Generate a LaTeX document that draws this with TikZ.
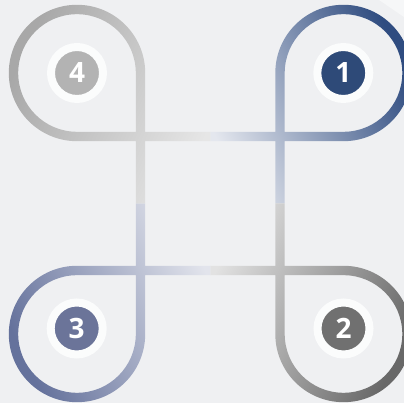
\documentclass[tikz,border=0pt]{standalone}
\usepackage{fontspec}
\setmainfont{Open Sans}
\usepackage{tikz}
\usepackage{xcolor}

\definecolor{bgcol}{HTML}{EFF0F2}
\definecolor{cornercol}{HTML}{F6F7F8}
\definecolor{ringcol}{HTML}{FBFCFC}
\definecolor{onecol}{HTML}{2E4A78}
\definecolor{twocol}{HTML}{707070}
\definecolor{threecol}{HTML}{6B7499}
\definecolor{fourcol}{HTML}{B3B3B3}
\definecolor{onedark}{HTML}{2F4C80}
\definecolor{onelight}{HTML}{E4E7EE}
\definecolor{twodark}{HTML}{686868}
\definecolor{twolight}{HTML}{E2E2E2}
\definecolor{threedark}{HTML}{65729C}
\definecolor{threelight}{HTML}{E2E4EC}
\definecolor{fourdark}{HTML}{A8A8A8}
\definecolor{fourlight}{HTML}{E6E6E6}

\begin{document}
\begin{tikzpicture}[x=1pt,y=1pt]
\tikzstyle{badge} =[circle, draw=ringcol, line width=8pt, minimum size=52pt, inner sep=0pt, text=white, font=\fontsize{28}{28}\selectfont\bfseries]

\useasboundingbox (0,0) rectangle (404,403);
\clip (0,0) rectangle (404,403);
\fill[bgcol] (0,0) rectangle (404,403);
\fill[cornercol] (379,403) -- (404,403) -- (404,386) -- cycle;

% one loop per corner, mirrored around the middle
\foreach \sx/\sy/\ang/\dark/\light in {1/1/-65/onedark/onelight, 1/-1/-115/twodark/twolight, -1/-1/115/threedark/threelight, -1/1/65/fourdark/fourlight}{
\begin{scope}[shift={(210.25,199.5)},xscale=\sx,yscale=\sy]
\shade[top color=\dark, bottom color=\light, shading angle=\ang]
  (133.25,62.3) arc[start angle=-90, end angle=180, radius=68.2] -- (74.45,130.5)
  arc[start angle=180, end angle=-90, radius=58.8] -- cycle
  (0,62.3) -- (133.25,62.3) -- (133.25,71.7) -- (0,71.7) -- cycle
  (65.05,0) -- (74.45,0) -- (74.45,130.5) -- (65.05,130.5) -- cycle;
\end{scope}
}

\node[badge, fill=onecol] (b1) at (343.3,330) {1};
\node[badge, fill=twocol] (b2) at (343.5,74.5) {2};
\node[badge, fill=threecol] (b3) at (76.7,74.5) {3};
\node[badge, fill=fourcol] (b4) at (77,330) {4};
\end{tikzpicture}
\end{document}
